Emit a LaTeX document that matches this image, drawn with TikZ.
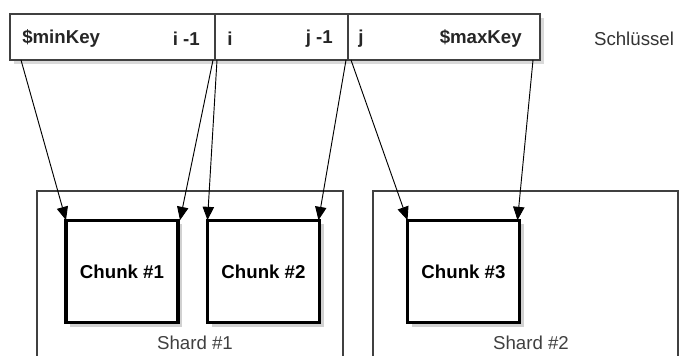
\documentclass[tikz,border=0pt]{standalone}
\usepackage{fontspec}
\setmainfont{Liberation Sans}
\usetikzlibrary{arrows.meta, shadows}

\begin{document}
\begin{tikzpicture}[x=0.75pt, y=-0.75pt,
    every node/.style={font=\fontsize{14}{16}\selectfont},
    keybox/.style={draw=black!75, line width=0.8pt, fill=white, inner sep=0pt, outer sep=0pt,
        minimum height=34.5pt, drop shadow={shadow xshift=3pt, shadow yshift=-3pt, fill=black!15, opacity=1}},
    chunkbox/.style={draw, line width=2.3pt, fill=white, inner sep=0pt, outer sep=0pt,
        minimum width=84pt, minimum height=77pt, font=\fontsize{14}{16}\selectfont\bfseries,
        drop shadow={shadow xshift=3pt, shadow yshift=-3pt, fill=black!18, opacity=1}},
    keylabel/.style={font=\fontsize{14}{16}\selectfont\bfseries, text=black!85, inner sep=0pt},
    shardline/.style={draw=black!75, line width=0.8pt},
    chunkarrow/.style={line width=0.7pt, -{Triangle[length=10pt, width=8.5pt]}}]
        \useasboundingbox (0,0) rectangle (680,356);
        % Shards (open at the bottom)
        \draw[shardline] (37,356) |- (343,191) -- (343,356);
        \draw[shardline] (373,356) |- (678,191) -- (678,356);
        \node[text=black!75] (shard1) at (195,343) {Shard \#1};
        \node[text=black!75] (shard2) at (531,343) {Shard \#2};
        % Key ranges
        \node[keybox, minimum width=153.75pt] (key1) at (112.5,37) {};
        \node[keybox, minimum width=99.75pt] (key2) at (281.5,37) {};
        \node[keybox, minimum width=144pt] (key3) at (444,37) {};
        \node[keylabel, anchor=west] (lmin) at (22,39) {\$minKey};
        \node[keylabel, anchor=east] (li1) at (200,39) {i -1};
        \node[keylabel, anchor=west] (li) at (227,39) {i};
        \node[keylabel, anchor=east] (lj1) at (333,39) {j -1};
        \node[keylabel, anchor=west] (lj) at (358,39) {j};
        \node[keylabel, anchor=east] (lmax) at (522,39) {\$maxKey};
        \node[text=black!80] (keys) at (634,39) {Schlüssel};
        % Chunks
        \node[chunkbox] (chunk1) at (122,271.5) {Chunk \#1};
        \node[chunkbox] (chunk2) at (263.5,271.5) {Chunk \#2};
        \node[chunkbox] (chunk3) at (463.5,271.5) {Chunk \#3};
        % Range bounds to chunks
        \draw[chunkarrow] ([xshift=8.25pt]key1.south west) -- (chunk1.north west);
        \draw[chunkarrow] ([xshift=-1.5pt]key1.south east) -- ([xshift=1.5pt]chunk1.north east);
        \draw[chunkarrow] ([xshift=1.5pt]key2.south west) -- (chunk2.north west);
        \draw[chunkarrow] ([xshift=-1.5pt]key2.south east) -- ([xshift=-0.75pt]chunk2.north east);
        \draw[chunkarrow] ([xshift=2.25pt]key3.south west) -- (chunk3.north west);
        \draw[chunkarrow] ([xshift=-5.25pt]key3.south east) -- ([xshift=-1.5pt]chunk3.north east);
    \end{tikzpicture}
\end{document}
